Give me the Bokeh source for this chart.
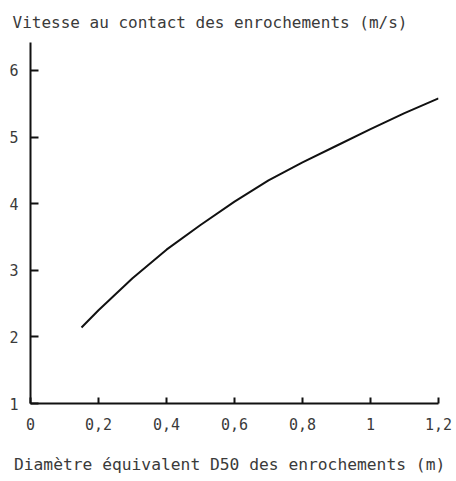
from bokeh.plotting import figure
from bokeh.models import FixedTicker, Range1d
from bokeh.embed import file_html
from bokeh.resources import INLINE

# Rock diameter D50 (m) and flow velocity at the riprap (m/s)
d50 = [0.15, 0.2, 0.3, 0.4, 0.5, 0.6, 0.7, 0.8, 0.9, 1.0, 1.1, 1.2]
velocity = [2.14, 2.40, 2.88, 3.31, 3.68, 4.03, 4.35, 4.62, 4.87, 5.12, 5.36, 5.58]

x_ticks = [0, 0.2, 0.4, 0.6, 0.8, 1.0, 1.2]
x_tick_labels = ["0", "0,2", "0,4", "0,6", "0,8", "1", "1,2"]
y_ticks = [1, 2, 3, 4, 5, 6]

FONT = "DejaVu Sans Mono"
INK = "#111111"
TEXT = "#3a3a3a"

p = figure(
    width=456, height=481,
    output_backend="svg", toolbar_location=None,
    x_range=Range1d(0, 1.2), y_range=Range1d(1, 6.42),
    min_border_left=30, min_border_right=18,
    min_border_top=40, min_border_bottom=78,
)
p.outline_line_color = None
p.grid.visible = False
p.background_fill_color = "white"
p.border_fill_color = "white"

p.line(d50, velocity, line_color=INK, line_width=2, line_join="round")

# Title above the vertical axis
p.title.text = "Vitesse au contact des enrochements  (m/s)"
p.title.align = "left"
p.title.offset = -18
p.title.text_font = FONT
p.title.text_font_size = "16px"
p.title.text_font_style = "normal"
p.title.text_color = TEXT
p.title.standoff = 21

for ax in (p.xaxis[0], p.yaxis[0]):
    ax.axis_line_color = INK
    ax.axis_line_width = 2
    ax.major_tick_line_color = INK
    ax.major_tick_line_width = 2
    ax.major_tick_out = 0
    ax.minor_tick_line_color = None
    ax.major_label_text_font = FONT
    ax.major_label_text_font_size = "15px"
    ax.major_label_text_color = TEXT

xa = p.xaxis[0]
xa.ticker = FixedTicker(ticks=x_ticks)
xa.major_label_overrides = {t: s for t, s in zip(x_ticks, x_tick_labels)}
xa.major_tick_in = 6
xa.major_label_standoff = 14
xa.axis_label = "Diamètre équivalent  D50 des enrochements (m)"
xa.axis_label_text_font = FONT
xa.axis_label_text_font_size = "16.3px"
xa.axis_label_text_font_style = "normal"
xa.axis_label_text_color = TEXT
xa.axis_label_standoff = 22

ya = p.yaxis[0]
ya.ticker = FixedTicker(ticks=y_ticks)
ya.major_tick_in = 8
ya.major_label_standoff = 12

open("out.html", "w").write(file_html(p, INLINE))
